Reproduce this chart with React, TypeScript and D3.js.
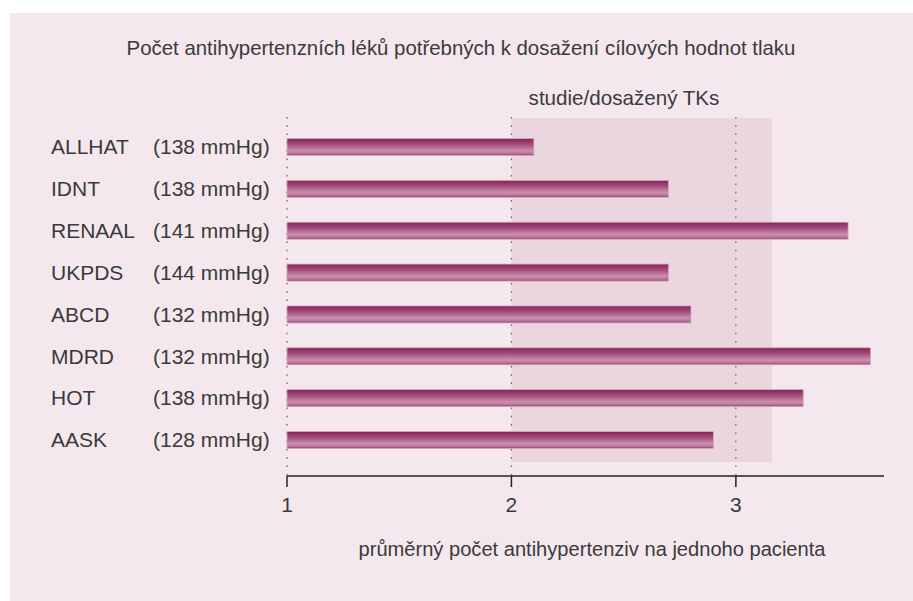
import React from "react";
import * as d3 from "d3";

const studies = ["ALLHAT", "IDNT", "RENAAL", "UKPDS", "ABCD", "MDRD", "HOT", "AASK"];
const pressures = ["(138 mmHg)", "(138 mmHg)", "(141 mmHg)", "(144 mmHg)", "(132 mmHg)", "(132 mmHg)", "(138 mmHg)", "(128 mmHg)"];
const values = [2.1, 2.7, 3.5, 2.7, 2.8, 3.6, 3.3, 2.9];
const xTicks = [1, 2, 3];
const shadedRange = [2, 3.16];

const title = "Počet antihypertenzních léků potřebných k dosažení cílových hodnot tlaku";
const subtitle = "studie/dosažený TKs";
const xLabel = "průměrný počet antihypertenziv na jednoho pacienta";

const FONT = "'Liberation Sans', Arial, sans-serif";
const TEXT = "#3a3a3a";

export default function App() {
  const x = d3.scaleLinear().domain([1, 3.66]).range([287, 884]);
  const y = d3.scalePoint<string>().domain(studies).range([147, 440]);
  const barH = 17;
  const axisY = 476;
  const gridTop = 117;

  return (
    <svg width={913} height={601} style={{ position: "absolute", left: 0, top: 0, display: "block" }}>
      <defs>
        <linearGradient id="barGrad" x1="0" y1="0" x2="0" y2="1">
          <stop offset="0%" stopColor="#87225a" />
          <stop offset="35%" stopColor="#a24f7b" />
          <stop offset="72%" stopColor="#cc8fab" />
          <stop offset="88%" stopColor="#b8759a" />
          <stop offset="100%" stopColor="#943868" />
        </linearGradient>
      </defs>
      <rect x={0} y={0} width={913} height={601} fill="#ffffff" />
      <rect x={10} y={13} width={903} height={588} fill="#f4e8ee" />
      <rect
        x={x(shadedRange[0])}
        y={118}
        width={x(shadedRange[1]) - x(shadedRange[0])}
        height={462 - 118}
        fill="#ebd6e0"
      />
      {xTicks.map((t) => (
        <line
          key={"g" + t}
          x1={x(t)}
          x2={x(t)}
          y1={gridTop}
          y2={axisY}
          stroke="#666"
          strokeWidth={1.3}
          strokeDasharray="1.5 6.8"
        />
      ))}
      {studies.map((s, i) => (
        <rect
          key={s}
          x={x(1)}
          y={(y(s) as number) - barH / 2}
          width={x(values[i]) - x(1)}
          height={barH}
          fill="url(#barGrad)"
          stroke="#d8a9bf"
          strokeWidth={0.8}
        />
      ))}
      {studies.map((s, i) => (
        <g key={"l" + s} fontFamily={FONT} fontSize={21} fill={TEXT}>
          <text x={51} y={y(s)} dy="0.35em">{s}</text>
          <text x={153} y={y(s)} dy="0.35em">{pressures[i]}</text>
        </g>
      ))}
      <line x1={x(1)} x2={884} y1={axisY} y2={axisY} stroke="#222" strokeWidth={1.5} />
      {xTicks.map((t) => (
        <g key={"t" + t}>
          <line x1={x(t)} x2={x(t)} y1={axisY} y2={487} stroke="#222" strokeWidth={1.5} />
          <text x={x(t)} y={505} dy="0.35em" textAnchor="middle" fontFamily={FONT} fontSize={21} fill={TEXT}>
            {t}
          </text>
        </g>
      ))}
      <text x={461} y={48} dy="0.35em" textAnchor="middle" fontFamily={FONT} fontSize={20.4} fill={TEXT}>
        {title}
      </text>
      <text x={624} y={98} dy="0.35em" textAnchor="middle" fontFamily={FONT} fontSize={20.6} fill={TEXT}>
        {subtitle}
      </text>
      <text x={592} y={549} dy="0.35em" textAnchor="middle" fontFamily={FONT} fontSize={20.1} fill={TEXT}>
        {xLabel}
      </text>
    </svg>
  );
}
